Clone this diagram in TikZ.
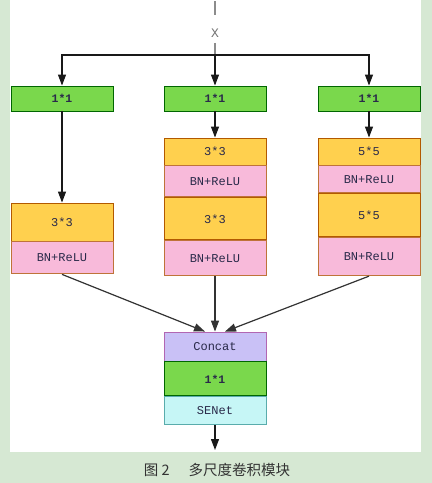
\documentclass[tikz,border=0pt]{standalone}
\usepackage{fontspec}
\setmonofont{Liberation Mono}
\newfontfamily\cjk{Noto Sans CJK SC}
\usetikzlibrary{positioning, arrows.meta}

\definecolor{pagegreen}{HTML}{D6E8D3}
\definecolor{convgreen}{HTML}{7AD84C}
\definecolor{convyellow}{HTML}{FFD04E}
\definecolor{bnpink}{HTML}{F8BADA}
\definecolor{catpurple}{HTML}{C9C1F6}
\definecolor{secyan}{HTML}{C6F6F6}
\definecolor{boxtext}{HTML}{2A2A4A}

\begin{document}
\begin{tikzpicture}[
        x=1pt, y=-1pt,
        box/.style={rectangle, minimum width=102pt, inner sep=0pt, line width=0.9pt, text=boxtext, font=\ttfamily\fontsize{12}{14}\selectfont},
        conv1/.style={box, draw=green!40!black, fill=convgreen, font=\ttfamily\bfseries\fontsize{11.5}{14}\selectfont},
        convk/.style={box, draw=orange!70!black, fill=convyellow},
        bnrelu/.style={box, draw=orange!60!pink!75!black, fill=bnpink},
        concatbox/.style={box, draw=violet!60, fill=catpurple},
        sebox/.style={box, draw=teal!65, fill=secyan},
        arrow/.style={-{Triangle[width=8pt,length=11pt]}, line width=1.2pt, black!90},
        merge/.style={-{Triangle[width=8pt,length=11pt]}, line width=1.2pt, black!80}
    ]
        \useasboundingbox (0,0) rectangle (432,483);
        \fill[pagegreen] (0,0) rectangle (432,483);
        \fill[white] (10,0) rectangle (421,452);

        % Input
        \coordinate (top) at (215,1);
        \node[font=\ttfamily\fontsize{13}{14}\selectfont, text=black!55] (xin) at (215,33) {X};
        \coordinate (split) at (215,55);

        % First 1*1 layer
        \node[conv1, minimum height=25pt] (a1) at (62,98.5) {1*1};
        \node[conv1, minimum height=25pt] (b1) at (215,98.5) {1*1};
        \node[conv1, minimum height=25pt] (c1) at (369,98.5) {1*1};

        % Left branch
        \node[convk, minimum height=38pt] (a2) at (62,222) {3*3};
        \node[bnrelu, minimum height=32pt, below=0pt of a2] (a3) {BN+ReLU};

        % Middle branch
        \node[convk, minimum height=27pt] (b2) at (215,151.5) {3*3};
        \node[bnrelu, minimum height=31pt, below=0pt of b2] (b3) {BN+ReLU};
        \node[convk, minimum height=42pt, below=0pt of b3] (b4) {3*3};
        \node[bnrelu, minimum height=35pt, below=0pt of b4] (b5) {BN+ReLU};

        % Right branch
        \node[convk, minimum height=27pt] (c2) at (369,151.5) {5*5};
        \node[bnrelu, minimum height=27pt, below=0pt of c2] (c3) {BN+ReLU};
        \node[convk, minimum height=43pt, below=0pt of c3] (c4) {5*5};
        \node[bnrelu, minimum height=38pt, below=0pt of c4] (c5) {BN+ReLU};

        % Fusion
        \node[concatbox, minimum height=29pt] (cat) at (215,346.5) {Concat};
        \node[conv1, minimum height=34pt, below=0pt of cat] (fuse) {1*1};
        \node[sebox, minimum height=28pt, below=0pt of fuse] (se) {SENet};
        \coordinate (out) at (215,450);

        % Input lines
        \draw[black!45, line width=1.8pt] (top) -- ([yshift=-14pt]top);
        \draw[black!45, line width=1.8pt] ([yshift=-2pt]xin.south) -- (split);
        \draw[arrow] (split) -- (b1.north);
        \draw[arrow] (split) -| (a1.north);
        \draw[arrow] (split) -| (c1.north);

        % Branch arrows
        \draw[arrow] (a1) -- (a2);
        \draw[arrow] (b1) -- (b2);
        \draw[arrow] (c1) -- (c2);

        % Merge
        \draw[merge] (a3.south) -- ([xshift=-10pt]cat.north);
        \draw[merge] (b5.south) -- (cat.north);
        \draw[merge] (c5.south) -- ([xshift=10pt]cat.north);
        \draw[arrow] (se) -- (out);

        \node[font=\cjk\fontsize{14.5}{16}\selectfont, text=black!80] (caption) at (217,470) {图 2\hspace{1.3em}多尺度卷积模块};
    \end{tikzpicture}
\end{document}
